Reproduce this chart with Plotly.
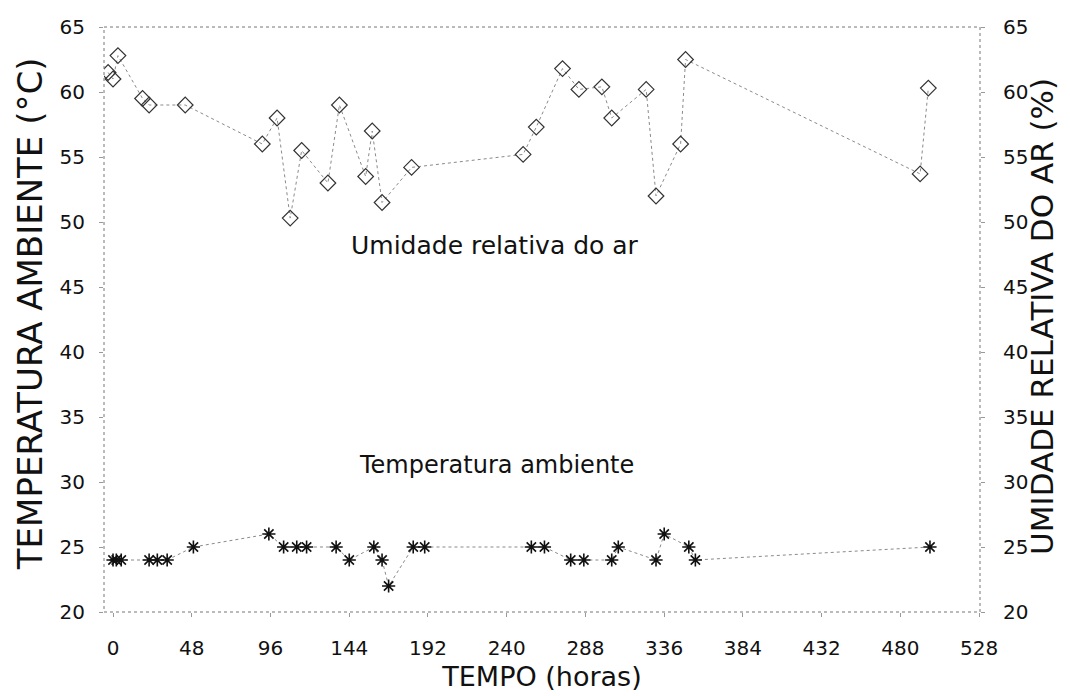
import plotly.graph_objects as go

# tempo (horas) e umidade relativa do ar (%)
hum_t = [-3, 0, 3, 18, 22, 44, 91, 100, 108, 115, 131, 138, 154, 158, 164, 182,
         250, 258, 274, 284, 298, 304, 325, 331, 346, 349, 492, 497]
hum_v = [61.5, 61, 62.8, 59.5, 59, 59, 56, 58, 50.3, 55.5, 53, 59, 53.5, 57, 51.5, 54.2,
         55.2, 57.3, 61.8, 60.2, 60.4, 58, 60.2, 52, 56, 62.5, 53.7, 60.3]

# tempo (horas) e temperatura ambiente (C)
temp_t = [0, 2, 5, 22, 27, 33, 49, 95, 104, 112, 118, 136, 144, 159, 164, 168, 183, 190,
          255, 263, 279, 287, 304, 308, 331, 336, 351, 355, 498]
temp_v = [24, 24, 24, 24, 24, 24, 25, 26, 25, 25, 25, 25, 24, 25, 24, 22, 25, 25,
          25, 25, 24, 24, 24, 25, 24, 26, 25, 24, 25]

x_ticks = list(range(0, 529, 48))
y_ticks = list(range(20, 66, 5))

FONT = "DejaVu Sans"

fig = go.Figure()

fig.add_trace(go.Scatter(
    x=hum_t, y=hum_v, yaxis="y2", mode="lines+markers",
    line=dict(color="#8a8a8a", width=1, dash="dot"),
    marker=dict(symbol="diamond-open", size=12, color="#333", line=dict(width=1.2)),
    showlegend=False,
))

fig.add_trace(go.Scatter(
    x=temp_t, y=temp_v, mode="lines+markers",
    line=dict(color="#8a8a8a", width=1, dash="dot"),
    marker=dict(symbol="asterisk-open", size=11, color="#111", line=dict(width=1.6)),
    showlegend=False,
))

fig.add_annotation(x=233, y=48.2, xref="x", yref="y", text="Umidade relativa do ar",
                   showarrow=False, font=dict(family=FONT, size=25, color="#111"))
fig.add_annotation(x=234, y=31.3, xref="x", yref="y", text="Temperatura ambiente",
                   showarrow=False, font=dict(family=FONT, size=24, color="#111"))

# titulos dos eixos verticais
fig.add_annotation(x=-0.085, y=0.51, xref="paper", yref="paper", textangle=-90,
                   xanchor="center", yanchor="middle",
                   text="TEMPERATURA AMBIENTE (°C)", showarrow=False,
                   font=dict(family=FONT, size=34, color="#111"))
fig.add_annotation(x=1.07, y=0.505, xref="paper", yref="paper", textangle=-90,
                   xanchor="center", yanchor="middle",
                   text="UMIDADE RELATIVA DO AR (%)", showarrow=False,
                   font=dict(family=FONT, size=31, color="#111"))

# moldura pontilhada
fig.add_shape(type="rect", xref="paper", yref="paper", x0=0, y0=0, x1=1, y1=1,
              line=dict(color="#777", width=1, dash="dot"))

fig.update_layout(
    width=1054, height=688,
    margin=dict(l=96, r=82, t=19, b=84),
    plot_bgcolor="white", paper_bgcolor="white",
    font=dict(family=FONT, size=20, color="#111"),
    xaxis=dict(
        range=[-5.5, 528.5], tickvals=x_ticks, showgrid=False, zeroline=False,
        showline=False, ticks="outside", ticklen=4, tickcolor="#999",
        ticklabelstandoff=14, tickfont=dict(size=20), automargin=False,
        title=dict(text="TEMPO (horas)", font=dict(size=27), standoff=8),
    ),
    yaxis=dict(
        range=[20, 65], tickvals=y_ticks, showgrid=False, zeroline=False,
        showline=False, ticks="outside", ticklen=4, tickcolor="#999",
        ticklabelstandoff=10, tickfont=dict(size=20), automargin=False,
    ),
    yaxis2=dict(
        range=[20, 65], tickvals=y_ticks, overlaying="y", side="right",
        showgrid=False, zeroline=False, showline=False,
        ticks="outside", ticklen=4, tickcolor="#999", automargin=False,
        ticklabelstandoff=14, tickfont=dict(size=20),
    ),
)

fig.write_html("out.html")
